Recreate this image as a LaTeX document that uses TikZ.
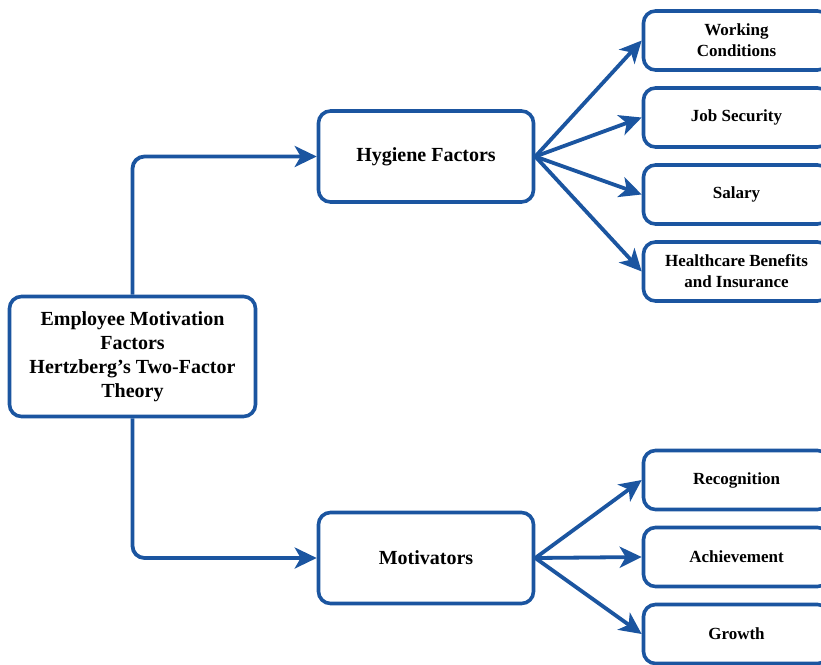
\documentclass[tikz,border=0pt]{standalone}
\usepackage{fontspec}
\setmainfont{Liberation Serif}
\usepackage{xcolor}
\usepackage{tikz}
\usetikzlibrary{arrows.meta}
\usetikzlibrary{shapes,positioning}
\definecolor{blueLine}{HTML}{1B55A0}
\tikzset{factor-node/.style={draw=blueLine,line width=3.6pt,rounded corners=12pt,fill=white,align=center}}
\tikzset{root-node/.style={factor-node,minimum width=246pt,minimum height=120pt,font=\bfseries\fontsize{20}{24}\selectfont}}
\tikzset{main-node/.style={factor-node,minimum width=215pt,minimum height=91pt,font=\bfseries\fontsize{20}{24}\selectfont}}
\tikzset{leaf-node/.style={factor-node,minimum width=186pt,minimum height=59pt,font=\bfseries\fontsize{17}{21}\selectfont}}
\tikzset{factor-arrow/.style={->,draw=blueLine,line width=3.8pt}}
\tikzset{>={Stealth[length=22pt,width=21pt,inset=6pt]}}

\begin{document}
\begin{tikzpicture}[x=1pt,y=-1pt]
            \useasboundingbox (0,0) rectangle (821,664);
            \node [root-node] (theory) at (132.5,356.5) {Employee Motivation\\Factors\\Hertzberg’s Two-Factor\\Theory};
            \node [main-node] (hygiene) at (426,156.5) {Hygiene Factors};
            \node [main-node] (motivators) at (426,558) {Motivators};

            \node [leaf-node] (working) at (736.5,40.5) {Working\\Conditions};
            \node [leaf-node] (security) at (736.5,117.5) {Job Security};
            \node [leaf-node] (salary) at (736.5,194.5) {Salary};
            \node [leaf-node] (health) at (736.5,271.5) {Healthcare Benefits\\and Insurance};

            \node [leaf-node] (recognition) at (736.5,480) {Recognition};
            \node [leaf-node] (achievement) at (736.5,557) {Achievement};
            \node [leaf-node] (growth) at (736.5,634) {Growth};

            \draw [factor-arrow, rounded corners=12pt] (theory.north) |- (hygiene.west);
            \draw [factor-arrow, rounded corners=12pt] (theory.south) |- (motivators.west);
            \foreach \leaf in {working, security, salary, health}
                \draw [factor-arrow] (hygiene.east) -- (\leaf.west);
            \foreach \leaf in {recognition, achievement, growth}
                \draw [factor-arrow] (motivators.east) -- (\leaf.west);
        \end{tikzpicture}
\end{document}
